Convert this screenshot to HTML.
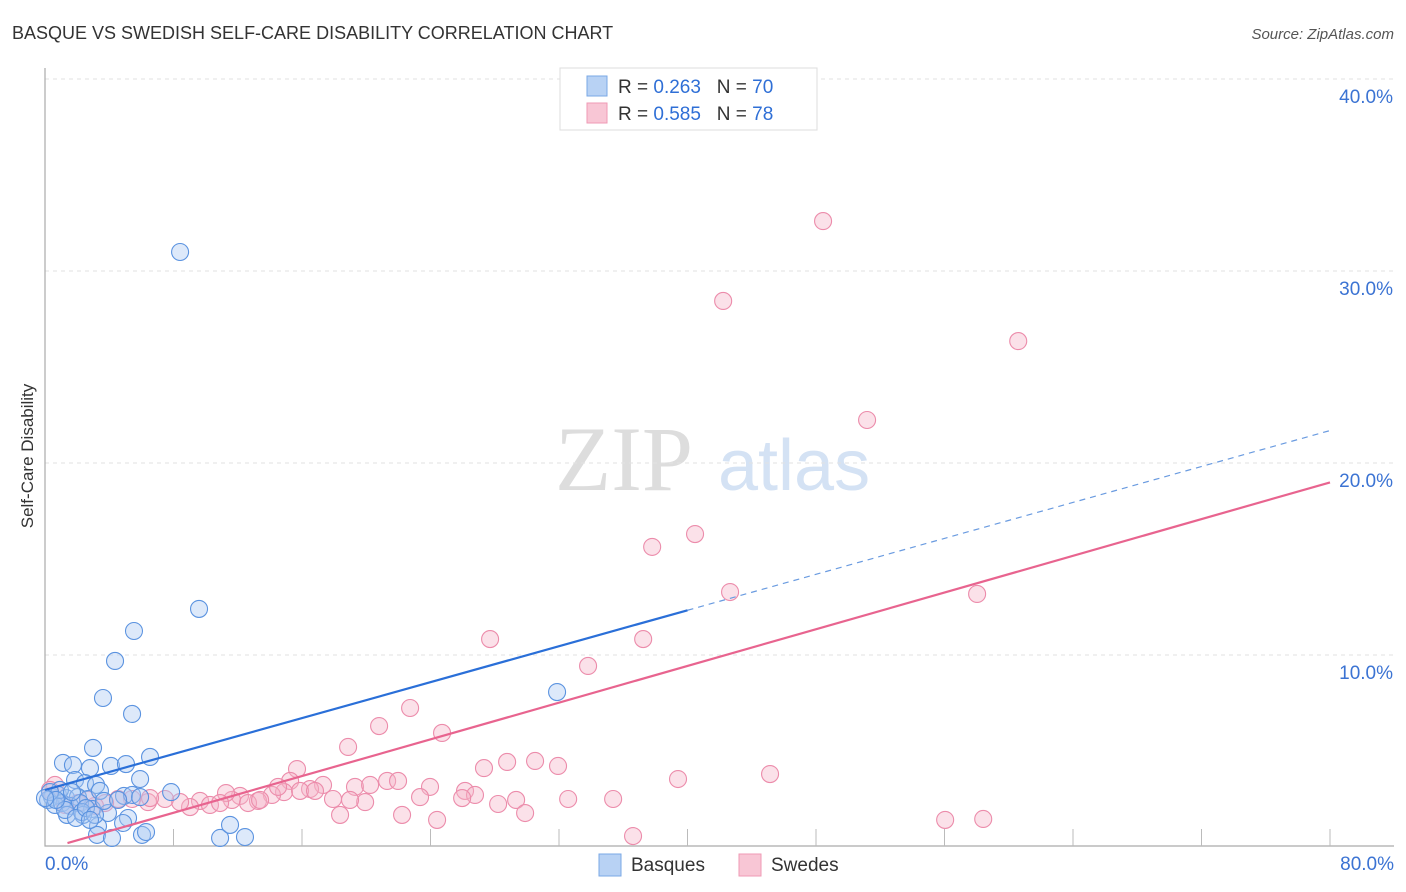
<!DOCTYPE html>
<html><head><meta charset="utf-8"><style>
body{margin:0;background:#fff;font-family:"Liberation Sans",sans-serif;}
svg{display:block}
</style></head><body>
<svg width="1406" height="892" xmlns="http://www.w3.org/2000/svg" id="svg">
<text x="12" y="39" font-size="18" fill="#333">BASQUE VS SWEDISH SELF-CARE DISABILITY CORRELATION CHART</text>
<text x="1394" y="39" font-size="15" fill="#555" font-style="italic" text-anchor="end">Source: ZipAtlas.com</text>
<text transform="translate(33,456) rotate(-90)" font-size="17" fill="#333" text-anchor="middle">Self-Care Disability</text>
<g><text x="555" y="490" font-size="92" fill="#ddd" font-family="Liberation Serif,serif">ZIP</text><text x="718" y="490" font-size="72" fill="#d4e2f4">atlas</text></g>
<g id="grid"></g><g id="axes"></g><g id="pts"></g><g id="lines"></g>
<g>
<rect x="560" y="68" width="257" height="62" fill="#fff" stroke="#ddd"/>
<rect x="587" y="76" width="20" height="20" fill="#b8d2f4" stroke="#7aa8e6"/>
<text x="618" y="93" font-size="19" fill="#333" xml:space="preserve">R = <tspan fill="#2f6fd6">0.263</tspan>   N = <tspan fill="#2f6fd6">70</tspan></text>
<rect x="587" y="103" width="20" height="20" fill="#f8c6d5" stroke="#ef9ab5"/>
<text x="618" y="120" font-size="19" fill="#333" xml:space="preserve">R = <tspan fill="#2f6fd6">0.585</tspan>   N = <tspan fill="#2f6fd6">78</tspan></text>
</g>
<g>
<rect x="599" y="854" width="22" height="22" fill="#b8d2f4" stroke="#7aa8e6"/>
<text x="631" y="871" font-size="19" fill="#333">Basques</text>
<rect x="739" y="854" width="22" height="22" fill="#f8c6d5" stroke="#ef9ab5"/>
<text x="771" y="871" font-size="19" fill="#333">Swedes</text>
</g>
</svg>
<script>
const yTicks=[10,20,30,40];
const xTickLabels=["0.0%","80.0%"];
const basqueX=[8.41,9.59,5.54,4.36,3.61,5.42,2.99,6.54,1.12,1.74,4.11,5.04,2.80,5.92,31.88,1.87,2.49,3.18,7.85,4.92,5.42,0.44,0.81,1.31,2.05,2.68,3.42,0.19,0.62,1.06,1.56,2.18,2.93,1.37,2.37,3.92,5.17,3.30,4.86,3.24,4.17,6.04,6.29,10.90,12.45,11.52,2.30,0.93,1.68,0.31,1.25,1.93,2.55,3.67,5.92,4.55,0.68,0.0,3.11,2.80];
const basqueY=[30.99,12.40,11.25,9.69,7.76,6.93,5.16,4.69,4.38,4.27,4.22,4.32,4.11,3.54,8.07,3.49,3.33,3.23,2.86,2.66,2.71,2.60,2.71,2.55,2.60,2.50,2.92,2.45,2.19,2.29,2.14,2.29,1.98,1.67,1.67,1.77,1.51,1.09,1.25,0.63,0.47,0.63,0.78,0.47,0.52,1.15,1.82,2.97,2.86,2.86,1.93,1.51,2.03,2.40,2.60,2.45,2.45,2.55,1.67,1.41];
const swedeX=[48.44,42.22,60.59,51.18,40.47,37.80,42.65,58.03,27.71,37.24,33.81,22.73,20.80,24.72,18.87,30.51,28.77,31.94,27.33,45.14,39.41,15.69,15.26,17.31,19.30,20.24,21.30,21.98,23.97,26.15,26.77,25.97,29.33,32.57,35.37,23.35,19.93,17.93,16.50,14.88,14.13,13.26,12.14,11.64,12.64,11.27,9.65,10.27,9.03,8.41,7.47,6.41,5.42,4.55,3.74,3.11,2.68,2.05,1.25,0.62,0.31,18.37,22.23,24.41,29.89,28.21,36.61,56.04,58.41,6.54,10.90,13.39,15.88,14.51,16.81,18.99];
const swedeY=[32.60,28.44,26.35,22.24,16.30,15.63,13.28,13.18,10.83,10.83,9.43,7.24,6.30,5.94,5.21,4.48,4.43,4.22,4.11,3.80,3.54,4.06,3.44,3.23,3.13,3.23,3.44,3.44,3.13,2.92,2.71,2.55,2.45,2.50,2.50,2.60,2.34,2.50,3.02,2.86,2.71,2.40,2.66,2.45,2.29,2.81,2.40,2.19,2.08,2.34,2.50,2.34,2.50,2.50,2.29,2.14,2.45,2.29,2.19,3.23,2.97,1.67,1.67,1.41,1.77,2.24,0.57,1.41,1.46,2.55,2.29,2.45,2.92,3.13,2.92,2.45];
const basqueFit=[2.97,0.234];
const swedeFit=[-0.13,0.239];
const NS="http://www.w3.org/2000/svg";
const sx=v=>45+v*16.0625, sy=v=>847-v*19.2;
function mk(tag,attrs,parent){const e=document.createElementNS(NS,tag);for(const k in attrs)e.setAttribute(k,attrs[k]);document.getElementById(parent).appendChild(e);return e;}
yTicks.forEach(t=>{
 const g=mk('line',{x1:45,x2:1394,y1:sy(t),y2:sy(t),stroke:'#e2e2e2','stroke-dasharray':'4,4'},'grid');
 
 
 const l=mk('text',{x:1393,y:sy(t)+24,'font-size':19,fill:'#3b73d3','text-anchor':'end'},'grid');
 l.textContent=t.toFixed(1)+'%';
 
 
});
const ax=mk('path',{d:'M45,68 V846 H1394',fill:'none',stroke:'#aaa','stroke-width':1.2},'axes');


for(let i=1;i<=10;i++){
 const t=mk('line',{x1:sx(i*8),x2:sx(i*8),y1:829,y2:846,stroke:'#bbb'},'axes');
 
 
}
[[0,'start',45],[80,'end',1394]].forEach((d,i)=>{
 const l=mk('text',{x:d[2],y:870,'font-size':19,fill:'#3b73d3','text-anchor':d[1]},'axes');
 l.textContent=xTickLabels[i];
 
 
});
function pts(X,Y,fill,stroke,name){X.forEach((x,i)=>{
 const c=mk('circle',{cx:sx(x),cy:sy(Y[i]),r:8.5,fill:fill,'fill-opacity':0.4,stroke:stroke,'stroke-width':1.1},'pts');
 
 
});}
pts(swedeX,swedeY,'#f5b3c8','#ec8cab','swede-point');
pts(basqueX,basqueY,'#a9c8f2','#5b93e0','basque-point');
const f=(p,x)=>p[0]+p[1]*x;
let e=mk('line',{x1:sx(0),y1:sy(f(basqueFit,0)),x2:sx(40),y2:sy(f(basqueFit,40)),stroke:'#2a6fd8','stroke-width':2.2},'lines');


e=mk('line',{x1:sx(40),y1:sy(f(basqueFit,40)),x2:sx(80),y2:sy(f(basqueFit,80)),stroke:'#6a9be0','stroke-width':1.2,'stroke-dasharray':'6,5'},'lines');


e=mk('line',{x1:sx(1.4),y1:sy(f(swedeFit,1.4)),x2:sx(80),y2:sy(f(swedeFit,80)),stroke:'#e8648f','stroke-width':2.2},'lines');


</script>
</body></html>
